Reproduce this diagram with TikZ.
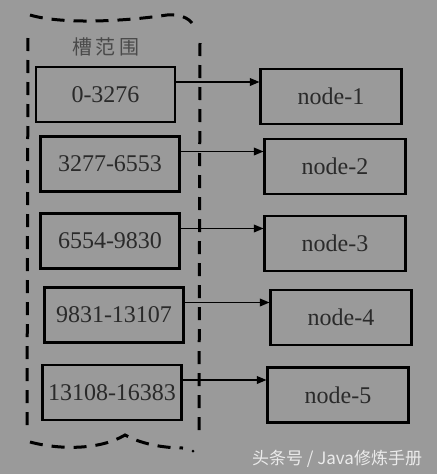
\documentclass[tikz,border=0pt]{standalone}
\usepackage{fontspec}
\setmainfont{Liberation Serif}
\newfontfamily\cjk{Noto Sans CJK SC}
\usetikzlibrary{arrows}
\definecolor{bggray}{HTML}{9A9A9A}
\definecolor{inkgray}{HTML}{2A2A2A}

\begin{document}
\begin{tikzpicture}[x=1pt,y=-1pt]
   \tikzset{slot node/.style={rectangle, draw=black, line width=2.2pt,
   		minimum width=139pt, minimum height=55pt,
   		text centered, text=inkgray, font=\fontsize{24}{24}\selectfont}, }
   \tikzset{redis node/.style={slot node, minimum width=141pt}, }
   \tikzset{grupo/.style={dashed, line width=3pt, dash pattern=on 13pt off 9pt}, }
   \tikzset{linea/.style={-triangle 45, line width=1.2pt},}

\fill[bggray] (0,0) rectangle (437,474);
\useasboundingbox (0,0) rectangle (437,474);

% slot ranges
\node[slot node] (s1) at (105.5,94.5) {0-3276};
\node[slot node] (s2) at (110,164) {3277-6553};
\node[slot node] (s3) at (110,241) {6554-9830};
\node[slot node] (s4) at (114,315) {9831-13107};
\node[slot node] (s5) at (112,392.5) {13108-16383};
% nodes
\node[redis node] (n1) at (331,96.5) {node-1};
\node[redis node] (n2) at (335,166.5) {node-2};
\node[redis node] (n3) at (335,243.5) {node-3};
\node[redis node] (n4) at (341,317.5) {node-4};
\node[redis node] (n5) at (338,395) {node-5};
\foreach \x in {1,...,5}
\draw[linea] ([yshift=12.5pt]s\x.east) -- ([yshift=12.5pt]s\x.east -| n\x.west);

% dashed group
\node[text=inkgray!85, font=\cjk\fontsize{20}{20}\selectfont] (titulo) at (106,47) {槽\,范\,围};
\draw[grupo] (30,15) .. controls (60,24) and (120,22) .. (167,15) .. controls (180,14) and (188,18) .. (192,23);
\draw[grupo] (28,38) -- (27,432);
\draw[grupo] (200,43) -- (199,438);
\draw[grupo] (30,442) .. controls (60,450) and (100,450) .. (125,435) .. controls (145,446) and (170,448) .. (183,448);
\fill (193,451) circle (1.5pt);

\node[text=white!92!black, font=\cjk\fontsize{17}{17}\selectfont] (marca) at (337,459) {头条号 / Java修炼手册};
\end{tikzpicture}
\end{document}
